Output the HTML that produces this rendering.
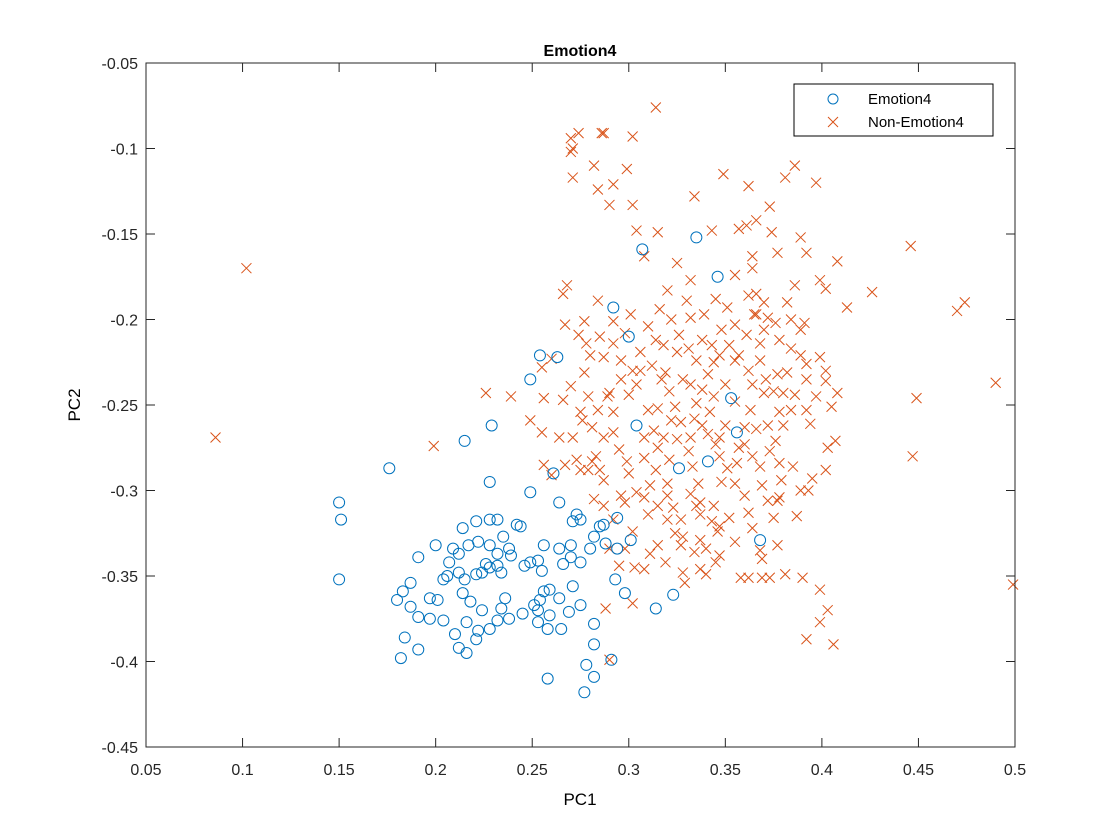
<!DOCTYPE html>
<html><head><meta charset="utf-8"><style>
html,body{margin:0;padding:0;background:#fff;}
svg{display:block;font-family:"Liberation Sans",Arial,sans-serif;}
</style></head><body>
<svg id="chart" width="1120" height="840" xmlns="http://www.w3.org/2000/svg">
<rect x="0" y="0" width="1120" height="840" fill="#fff"/>
<rect x="146" y="63" width="869" height="684" fill="#fff"/>
<g id="marks"></g>
<g id="axes"></g>
<text x="580" y="56" text-anchor="middle" font-size="16" font-weight="bold">Emotion4</text>
<text x="580" y="805" text-anchor="middle" font-size="17">PC1</text>
<text transform="translate(80,405) rotate(-90)" text-anchor="middle" font-size="17">PC2</text>
<g>
<rect x="794" y="84" width="199" height="52" fill="#fff" stroke="#000" stroke-width="1"/>
<circle cx="833" cy="99" r="5" fill="none" stroke="#0072BD" stroke-width="1"/>
<text x="868" y="104" font-size="15">Emotion4</text>
<path d="M828,117 L838,127 M838,117 L828,127" stroke="#D95319" stroke-width="1"/>
<text x="868" y="127" font-size="15">Non-Emotion4</text>
</g>
</svg>
<script>
const xTicks=[0.05,0.1,0.15,0.2,0.25,0.3,0.35,0.4,0.45,0.5];
const xTickLabels=["0.05","0.1","0.15","0.2","0.25","0.3","0.35","0.4","0.45","0.5"];
const yTicks=[-0.05,-0.1,-0.15,-0.2,-0.25,-0.3,-0.35,-0.4,-0.45];
const yTickLabels=["-0.05","-0.1","-0.15","-0.2","-0.25","-0.3","-0.35","-0.4","-0.45"];
const emoX=[0.150,0.151,0.150,0.176,0.215,0.229,0.249,0.254,0.263,0.292,0.300,0.307,0.335,0.346,0.304,0.353,0.356,0.341,0.326,0.368,0.261,0.249,0.228,0.214,0.228,0.242,0.264,0.273,0.275,0.285,0.288,0.280,0.294,0.301,0.293,0.298,0.314,0.323,0.275,0.282,0.264,0.282,0.278,0.258,0.291,0.277,0.282,0.200,0.191,0.187,0.183,0.180,0.187,0.184,0.182,0.191,0.201,0.204,0.207,0.206,0.212,0.212,0.215,0.214,0.218,0.221,0.224,0.228,0.222,0.228,0.232,0.235,0.238,0.239,0.232,0.221,0.209,0.217,0.226,0.232,0.234,0.236,0.234,0.224,0.228,0.222,0.216,0.221,0.232,0.238,0.245,0.251,0.254,0.256,0.253,0.253,0.259,0.259,0.249,0.253,0.246,0.255,0.244,0.256,0.264,0.266,0.270,0.275,0.258,0.265,0.269,0.271,0.212,0.197,0.204,0.216,0.210,0.191,0.197,0.270,0.271,0.282,0.294,0.287];
const emoY=[-0.307,-0.317,-0.352,-0.287,-0.271,-0.262,-0.235,-0.221,-0.222,-0.193,-0.210,-0.159,-0.152,-0.175,-0.262,-0.246,-0.266,-0.283,-0.287,-0.329,-0.290,-0.301,-0.295,-0.322,-0.317,-0.320,-0.307,-0.314,-0.317,-0.321,-0.331,-0.334,-0.334,-0.329,-0.352,-0.360,-0.369,-0.361,-0.367,-0.378,-0.363,-0.390,-0.402,-0.410,-0.399,-0.418,-0.409,-0.332,-0.339,-0.354,-0.359,-0.364,-0.368,-0.386,-0.398,-0.393,-0.364,-0.352,-0.342,-0.350,-0.348,-0.337,-0.352,-0.360,-0.365,-0.349,-0.348,-0.345,-0.330,-0.332,-0.337,-0.327,-0.334,-0.338,-0.317,-0.318,-0.334,-0.332,-0.343,-0.344,-0.348,-0.363,-0.369,-0.370,-0.381,-0.382,-0.377,-0.387,-0.376,-0.375,-0.372,-0.367,-0.364,-0.359,-0.370,-0.377,-0.373,-0.358,-0.342,-0.341,-0.344,-0.347,-0.321,-0.332,-0.334,-0.343,-0.339,-0.342,-0.381,-0.381,-0.371,-0.356,-0.392,-0.375,-0.376,-0.395,-0.384,-0.374,-0.363,-0.332,-0.318,-0.327,-0.316,-0.320];
const nonX=[0.102,0.086,0.314,0.270,0.274,0.286,0.271,0.270,0.271,0.282,0.287,0.284,0.292,0.290,0.302,0.299,0.302,0.304,0.308,0.315,0.325,0.334,0.349,0.362,0.361,0.366,0.373,0.386,0.397,0.381,0.343,0.357,0.364,0.374,0.377,0.389,0.392,0.408,0.399,0.402,0.413,0.426,0.446,0.470,0.474,0.490,0.499,0.449,0.447,0.408,0.407,0.394,0.392,0.402,0.392,0.378,0.389,0.384,0.382,0.378,0.366,0.366,0.364,0.355,0.345,0.339,0.332,0.322,0.316,0.310,0.301,0.292,0.284,0.277,0.268,0.266,0.267,0.260,0.255,0.256,0.249,0.255,0.256,0.260,0.267,0.273,0.271,0.264,0.266,0.275,0.279,0.277,0.280,0.287,0.290,0.292,0.287,0.283,0.281,0.287,0.282,0.287,0.292,0.298,0.302,0.303,0.302,0.288,0.290,0.298,0.304,0.308,0.299,0.308,0.310,0.304,0.302,0.306,0.314,0.312,0.317,0.321,0.324,0.327,0.325,0.321,0.320,0.320,0.323,0.327,0.328,0.327,0.334,0.337,0.340,0.345,0.347,0.346,0.343,0.337,0.336,0.333,0.331,0.332,0.334,0.335,0.338,0.341,0.344,0.347,0.352,0.357,0.362,0.364,0.363,0.360,0.357,0.356,0.355,0.360,0.362,0.364,0.358,0.362,0.369,0.381,0.390,0.377,0.375,0.372,0.369,0.368,0.373,0.376,0.380,0.384,0.375,0.371,0.368,0.368,0.376,0.384,0.389,0.399,0.402,0.405,0.403,0.402,0.395,0.389,0.387,0.393,0.385,0.378,0.377,0.347,0.350,0.345,0.341,0.332,0.328,0.319,0.315,0.313,0.315,0.314,0.311,0.308,0.315,0.320,0.324,0.315,0.319,0.328,0.329,0.347,0.344,0.337,0.399,0.392,0.406,0.399,0.403,0.378,0.379,0.347,0.351,0.348,0.360,0.364,0.342,0.344,0.350,0.355,0.366,0.372,0.377,0.370,0.361,0.355,0.348,0.338,0.331,0.325,0.318,0.306,0.300,0.296,0.292,0.295,0.300,0.296,0.310,0.285,0.279,0.275,0.270,0.274,0.278,0.285,0.292,0.298,0.276,0.281,0.284,0.289,0.296,0.320,0.332,0.330,0.326,0.335,0.343,0.355,0.362,0.370,0.382,0.386,0.351,0.365,0.372,0.391,0.397,0.392,0.386,0.380,0.370,0.338,0.322,0.318,0.332,0.335,0.352,0.355,0.368,0.369,0.373,0.311,0.308,0.290,0.295,0.337,0.340,0.226,0.239,0.199];
const nonY=[-0.170,-0.269,-0.076,-0.094,-0.091,-0.091,-0.100,-0.102,-0.117,-0.110,-0.091,-0.124,-0.121,-0.133,-0.093,-0.112,-0.133,-0.148,-0.163,-0.149,-0.167,-0.128,-0.115,-0.122,-0.145,-0.142,-0.134,-0.110,-0.120,-0.117,-0.148,-0.147,-0.163,-0.149,-0.161,-0.152,-0.161,-0.166,-0.177,-0.182,-0.193,-0.184,-0.157,-0.195,-0.190,-0.237,-0.355,-0.246,-0.280,-0.243,-0.271,-0.261,-0.253,-0.236,-0.226,-0.212,-0.206,-0.200,-0.231,-0.254,-0.197,-0.185,-0.170,-0.174,-0.188,-0.197,-0.199,-0.200,-0.194,-0.204,-0.197,-0.201,-0.189,-0.201,-0.180,-0.185,-0.203,-0.223,-0.228,-0.246,-0.259,-0.266,-0.285,-0.291,-0.285,-0.282,-0.269,-0.269,-0.247,-0.254,-0.245,-0.231,-0.221,-0.222,-0.243,-0.254,-0.269,-0.280,-0.283,-0.294,-0.305,-0.309,-0.317,-0.334,-0.324,-0.345,-0.366,-0.369,-0.399,-0.307,-0.301,-0.281,-0.283,-0.269,-0.253,-0.238,-0.230,-0.219,-0.212,-0.227,-0.235,-0.242,-0.251,-0.260,-0.270,-0.282,-0.296,-0.303,-0.310,-0.317,-0.327,-0.332,-0.336,-0.346,-0.349,-0.342,-0.338,-0.324,-0.318,-0.307,-0.296,-0.286,-0.277,-0.269,-0.258,-0.249,-0.241,-0.232,-0.225,-0.221,-0.215,-0.221,-0.230,-0.238,-0.253,-0.263,-0.275,-0.284,-0.296,-0.303,-0.313,-0.322,-0.351,-0.351,-0.351,-0.349,-0.351,-0.332,-0.316,-0.306,-0.297,-0.286,-0.277,-0.271,-0.262,-0.253,-0.242,-0.235,-0.224,-0.214,-0.202,-0.217,-0.221,-0.222,-0.230,-0.251,-0.275,-0.288,-0.293,-0.300,-0.315,-0.300,-0.286,-0.284,-0.306,-0.269,-0.262,-0.273,-0.267,-0.238,-0.235,-0.231,-0.252,-0.265,-0.275,-0.288,-0.297,-0.304,-0.309,-0.317,-0.325,-0.332,-0.342,-0.348,-0.354,-0.321,-0.309,-0.314,-0.358,-0.387,-0.390,-0.377,-0.370,-0.304,-0.294,-0.280,-0.287,-0.295,-0.273,-0.280,-0.254,-0.245,-0.238,-0.248,-0.264,-0.262,-0.232,-0.206,-0.209,-0.203,-0.206,-0.212,-0.217,-0.219,-0.215,-0.230,-0.244,-0.235,-0.266,-0.276,-0.290,-0.303,-0.314,-0.288,-0.288,-0.288,-0.239,-0.209,-0.214,-0.210,-0.214,-0.208,-0.259,-0.263,-0.253,-0.245,-0.224,-0.183,-0.177,-0.189,-0.209,-0.224,-0.215,-0.224,-0.186,-0.190,-0.190,-0.180,-0.193,-0.197,-0.199,-0.202,-0.245,-0.235,-0.244,-0.243,-0.243,-0.262,-0.259,-0.269,-0.302,-0.309,-0.316,-0.330,-0.335,-0.340,-0.351,-0.337,-0.346,-0.334,-0.344,-0.329,-0.334,-0.243,-0.245,-0.274];

const X0=146,X1=1015,Y0=747,Y1=63;
const xS=v=>X0+(v-0.05)/(0.5-0.05)*(X1-X0);
const yS=v=>Y0+(v-(-0.45))/(-0.05-(-0.45))*(Y1-Y0);
const NS="http://www.w3.org/2000/svg";
const marks=document.getElementById('marks');
const axes=document.getElementById('axes');
function mk(tag,attrs){const e=document.createElementNS(NS,tag);for(const k in attrs)e.setAttribute(k,attrs[k]);return e;}

for(let i=0;i<nonX.length;i++){
  const cx=xS(nonX[i]),cy=yS(nonY[i]),r=5;
  const p=mk('path',{d:`M${cx-r},${cy-r} L${cx+r},${cy+r} M${cx+r},${cy-r} L${cx-r},${cy+r}`,stroke:'#D95319','stroke-width':1,fill:'none'});
  
  
  marks.appendChild(p);
}
for(let i=0;i<emoX.length;i++){
  const c=mk('circle',{cx:xS(emoX[i]),cy:yS(emoY[i]),r:5.5,fill:'none',stroke:'#0072BD','stroke-width':1});
  
  
  marks.appendChild(c);
}

const box=mk('rect',{x:X0,y:Y1,width:X1-X0,height:Y0-Y1,fill:'none',stroke:'#262626','stroke-width':1});


axes.appendChild(box);
xTicks.forEach((v,i)=>{
  const x=xS(v);
  const t=mk('path',{d:`M${x},${Y0} L${x},${Y0-9} M${x},${Y1} L${x},${Y1+9}`,stroke:'#262626','stroke-width':1});
  
  
  axes.appendChild(t);
  const l=mk('text',{x:x,y:775,'text-anchor':'middle','font-size':16,fill:'#262626'});
  l.textContent=xTickLabels[i];
  
  
  axes.appendChild(l);
});
yTicks.forEach((v,i)=>{
  const y=yS(v);
  const t=mk('path',{d:`M${X0},${y} L${X0+9},${y} M${X1},${y} L${X1-9},${y}`,stroke:'#262626','stroke-width':1});
  
  
  axes.appendChild(t);
  const l=mk('text',{x:X0-8,y:y+6,'text-anchor':'end','font-size':16,fill:'#262626'});
  l.textContent=yTickLabels[i];
  
  
  axes.appendChild(l);
});
</script>
</body></html>
